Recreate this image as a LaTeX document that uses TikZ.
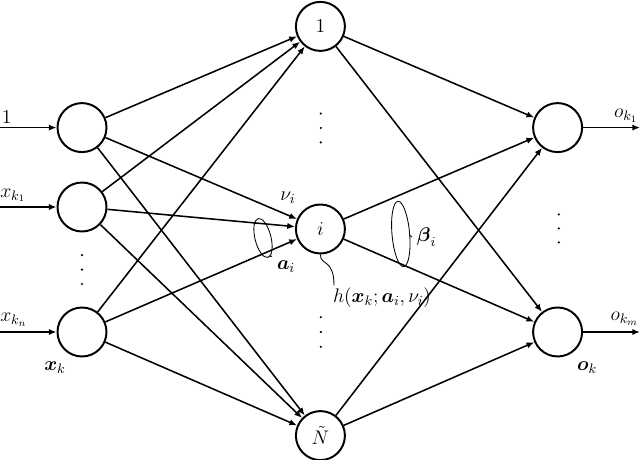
\RequirePackage{fix-cm}
\documentclass[tikz,border=0pt]{standalone}
\usepackage{amsmath}
\usetikzlibrary{arrows.meta}
\def\dotcol(#1,#2:#3){\fill (#1,#2+#3) circle (0.03); \fill (#1,#2) circle (0.03); \fill (#1,#2-#3) circle (0.03);}

\begin{document}
\begin{tikzpicture}[font=\fontsize{14}{17}\selectfont,
		neuron/.style={draw, circle, line width=1.4pt, minimum size=1.225cm, inner sep=0pt},
		link/.style={line width=1.1pt, -{Latex[length=5.5pt,width=4.5pt]}}]
			%%%%% NEURONS %%%%%
			\useasboundingbox (0,0) rectangle (16,11.5);
			
			\node[neuron] (in1) at (2.05, 8.31) {};
			\node[neuron] (in2) at (2.05, 6.325) {};
			\node[neuron] (in3) at (2.05, 3.2) {};
			
			\node[neuron] (h1) at (8.01, 10.84) {$1$};
			\node[neuron] (hi) at (8.01, 5.775) {$i$};
			\node[neuron] (hN) at (8.01, 0.61) {$\tilde{N}$};
			
			\node[neuron] (out1) at (13.94, 8.31) {};
			\node[neuron] (out2) at (13.94, 3.2) {};
			
			\dotcol(2.05,4.76:0.36)
			\dotcol(8.02,8.3:0.36)
			\dotcol(8.02,3.2:0.37)
			\dotcol(13.97,5.79:0.35)
			
			%%%%% INPUTS AND OUTPUTS %%%%%
			\coordinate (s1) at (0, 8.31);
			\coordinate (s2) at (0, 6.325);
			\coordinate (s3) at (0, 3.2);
			\coordinate (t1) at (16, 8.31);
			\coordinate (t2) at (16, 3.2);
			\draw[link] (s1) -- (in1);
			\draw[link] (s2) -- (in2);
			\draw[link] (s3) -- (in3);
			\draw[link] (out1) -- (t1);
			\draw[link] (out2) -- (t2);
			
			\node[anchor=base west, inner sep=0pt] (l1) at (0.04, 8.4) {$1$};
			\node[anchor=base west, inner sep=0pt] (l2) at (0, 6.57) {$x_{k_1}$};
			\node[anchor=base west, inner sep=0pt] (l3) at (0, 3.45) {$x_{k_n}$};
			\node[anchor=base east, inner sep=0pt] (r1) at (15.95, 8.55) {$o_{k_1}$};
			\node[anchor=base east, inner sep=0pt] (r2) at (15.97, 3.48) {$o_{k_m}$};
			\node (xk) at (1.375, 2.3) {$\boldsymbol{x}_k$};
			\node (ok) at (14.675, 2.3) {$\boldsymbol{o}_k$};
			
			%%%%% WEIGHTS %%%%%
			\draw[link] (in1) -- (h1);
			\draw[link] (in1) -- (hi);
			\draw[link] (in1) -- (hN);
			\draw[link] (in2) -- (h1);
			\draw[link] (in2) -- (hi);
			\draw[link] (in2) -- (hN);
			\draw[link] (in3) -- (h1);
			\draw[link] (in3) -- (hi);
			\draw[link] (in3) -- (hN);
			
			\draw[link] (h1) -- (out1);
			\draw[link] (h1) -- (out2);
			\draw[link] (hi) -- (out1);
			\draw[link] (hi) -- (out2);
			\draw[link] (hN) -- (out1);
			\draw[link] (hN) -- (out2);
			
			%%%%% LABELS %%%%%
			\node (nu) at (7.2, 6.55) {$\nu_i$};
			
			\draw[line width=0.6pt, rotate around={14:(6.575,5.55)}] (6.575,5.55) ellipse (0.2 and 0.5);
			\node (ai) at (7.15, 4.83) {$\boldsymbol{a}_i$};
			\coordinate (ae) at (6.74, 5.08);
			\draw[line width=0.6pt] (ae) -- (ai.north west);
			
			\draw[line width=0.6pt, rotate around={5:(10.02,5.65)}] (10.02,5.65) ellipse (0.22 and 0.82);
			\node[anchor=west] (bi) at (10.3, 5.575) {$\boldsymbol{\beta}_i$};
			\coordinate (be) at (10.24, 5.62);
			\draw[line width=0.6pt] (be) -- (bi.west);
			
			\node (hx) at (9.55, 4.05) {$h(\boldsymbol{x}_k;\boldsymbol{a}_i,\nu_i)$};
			\coordinate (hp) at (8.35, 4.36);
			\draw[line width=0.6pt] (hi.south) .. controls (8.0,4.85) and (8.35,5.05) .. (hp);
			
			%%%%% END %%%%%
		\end{tikzpicture}
\end{document}
